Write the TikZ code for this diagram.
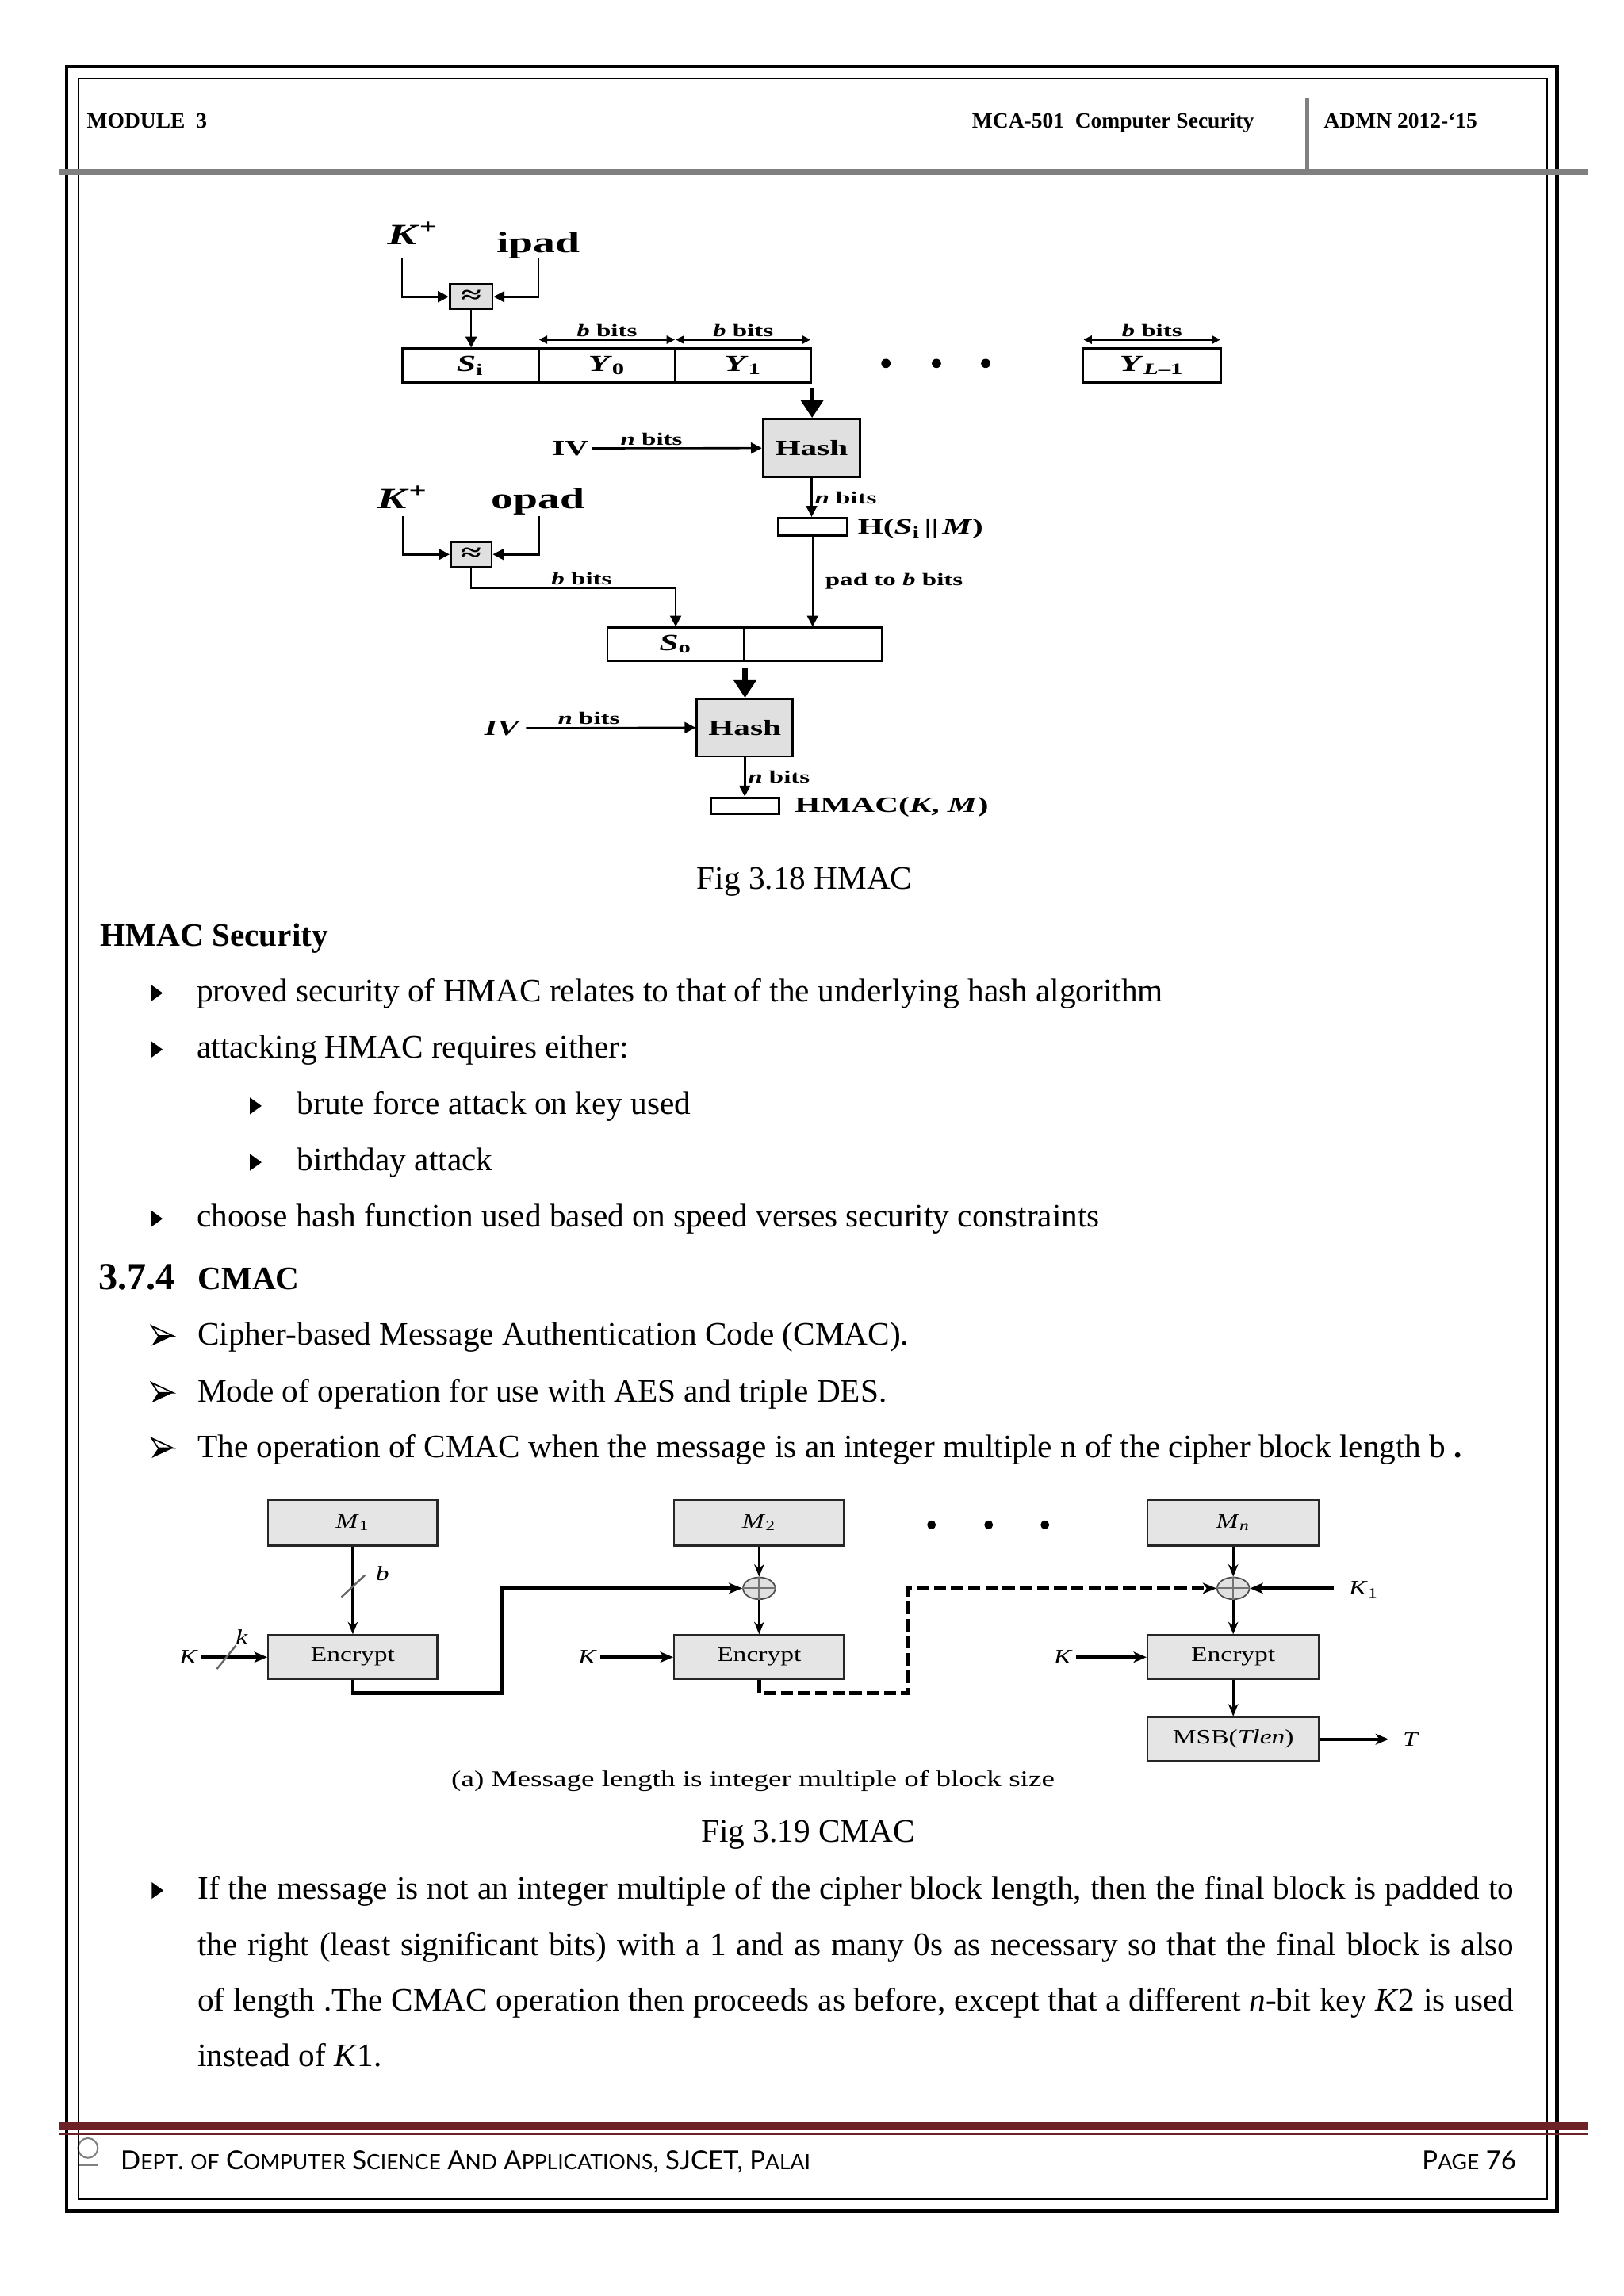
\documentclass[tikz,border=0pt]{standalone}
\usepackage{fontspec}
\setmainfont{Liberation Serif}
\newfontfamily\hfig[FakeStretch=1.5]{Liberation Serif}
\newfontfamily\cfig[FakeStretch=1.3]{Liberation Serif}
\newfontfamily\ffont{Lato}
\usetikzlibrary{arrows.meta,fit,shapes.geometric}
\newlength\pxu
\setlength\pxu{0.53725pt}
\newcommand\fsc[2]{#1{\fontsize{7.7}{8}\selectfont #2}}
\definecolor{maroon}{RGB}{108,34,39}
\begin{document}
\begin{tikzpicture}[x=\pxu,y=-\pxu,
  bt/.style={anchor=base west, inner sep=0, font=\fontsize{12}{14}\selectfont},
  hb/.style={draw, line width=0.8pt, inner sep=0pt},
  hg/.style={hb, fill=black!12},
  ha/.style={line width=0.75pt, -{Triangle[length=4pt,width=4pt]}},
  hA/.style={line width=1.8pt, -{Triangle[length=6.5pt,width=8pt]}},
  hd/.style={line width=0.6pt, {Triangle[length=3pt,width=3pt]}-{Triangle[length=3pt,width=3pt]}},
  hl/.style={font=\hfig\fontsize{6.4}{7}\selectfont\bfseries, inner sep=0.8pt},
  hm/.style={font=\hfig\fontsize{8}{9}\selectfont\bfseries, inner sep=0pt},
  hr/.style={font=\hfig\fontsize{8.5}{9}\selectfont\bfseries, inner sep=0pt},
  hx/.style={font=\hfig\fontsize{9}{9}\selectfont\bfseries, inner sep=0pt},
  hk/.style={font=\hfig\fontsize{10.8}{12}\selectfont\bfseries, inner sep=0pt},
  cb/.style={draw=black!85, line width=0.7pt, fill=black!10, inner sep=0pt},
  cl/.style={font=\cfig\fontsize{7.5}{8}\selectfont, inner sep=1pt},
  ca/.style={line width=0.9pt, -{Stealth[length=4.5pt,width=3.6pt,inset=1.4pt]}},
  cK/.style={line width=1.3pt, -{Stealth[length=4.8pt,width=4pt,inset=1.4pt]}},
  cA/.style={line width=1.4pt},
  cx/.style={ellipse, draw=black!70, line width=0.5pt, fill=black!12, minimum width=22\pxu, minimum height=15\pxu, inner sep=0pt}
]
\useasboundingbox (0,0) rectangle (1108,1567);

% ---------- page frame ----------
\draw[gray, line width=0.6pt] (60,1466) circle (3.6pt);
\draw[gray, line width=0.6pt] (54,1477.5) -- (67,1477.5);
\draw[line width=1.4pt] (45.5,45.5) rectangle (1062.5,1509);
\draw[line width=0.7pt] (53.5,53.5) rectangle (1055.5,1501);
\fill[black!50] (40,115) rectangle (1083,119.5);
\draw[black!50, line width=1.2pt] (892,67) -- (892,115);
\fill[maroon] (40,1448.5) rectangle (1083,1454);
\draw[maroon, line width=0.5pt] (40,1456.6) -- (1083,1456.6);

% ---------- header / footer ----------
\node[anchor=base west, inner sep=0, font=\fontsize{8}{9}\selectfont\bfseries] (mod) at (59,87.5) {MODULE\ \ 3};
\node[anchor=base east, inner sep=0, font=\fontsize{8}{9}\selectfont\bfseries] (course) at (856,87.5) {MCA-501\ \ Computer Security};
\node[anchor=base west, inner sep=0, font=\fontsize{8}{9}\selectfont\bfseries] (admn) at (903,87.5) {ADMN 2012-‘15};
\node[anchor=base west, inner sep=0, font=\ffont\fontsize{9.6}{10}\selectfont] (dept) at (82,1480.5)
  {\fsc{D}{EPT}. \fsc{}{OF} \fsc{C}{OMPUTER} \fsc{S}{CIENCE} \fsc{A}{ND} \fsc{A}{PPLICATIONS}, SJCET, \fsc{P}{ALAI}};
\node[anchor=base east, inner sep=0, font=\ffont\fontsize{9.6}{10}\selectfont] (page) at (1035,1480.5) {\fsc{P}{AGE} 76};

% ---------- HMAC figure ----------
\node[hk, anchor=base west] (kp1) at (264,167) {\textit{K}\textsuperscript{+}};
\node[hk, anchor=base west] (ipad) at (338.6,172.3) {ipad};
\node[hg, fit={(307,194)(336,211)}] (x1) {};
\node[hx] (x1l) at (x1) {≈};
\coordinate (k1t) at (274.4,176);
\coordinate (i1t) at (367.5,176);
\draw[ha] (k1t) |- (x1.west);
\draw[ha] (i1t) |- (x1.east);

\node[hb, fit={(274.4,238)(367.5,261)}] (si) {};
\node[hb, fit={(367.5,238)(460.8,261)}] (y0) {};
\node[hb, fit={(460.8,238)(553.4,261)}] (y1) {};
\node[hb, fit={(739,238)(833,261)}] (yl) {};
\node[hr] (sil) at (si) {\textit{S}\textsubscript{i}};
\node[hr] (y0l) at (y0) {\textit{Y}\textsubscript{0}};
\node[hr] (y1l) at (y1) {\textit{Y}\textsubscript{1}};
\node[hr] (yll) at (yl) {\textit{Y}\textsubscript{\textit{L}–1}};
\draw[ha] (x1.south) -- (x1.south |- si.north);
\draw[hd] ([xshift=0.6pt,yshift=2.9pt]y0.north west) -- ([xshift=-0.6pt,yshift=2.9pt]y0.north east) node[midway, above, hl] {\textit{b} bits};
\draw[hd] ([xshift=0.6pt,yshift=2.9pt]y1.north west) -- ([xshift=-0.6pt,yshift=2.9pt]y1.north east) node[midway, above, hl] {\textit{b} bits};
\draw[hd] ([xshift=0.6pt,yshift=2.9pt]yl.north west) -- ([xshift=-0.6pt,yshift=2.9pt]yl.north east) node[midway, above, hl] {\textit{b} bits};
\fill (604.5,248) circle (1.7pt);
\fill (639,248) circle (1.7pt);
\fill (672.6,248) circle (1.7pt);

\node[hg, fit={(520.6,286)(587,325.6)}] (hash1) {};
\node[hm] (hash1l) at (hash1) {Hash};
\draw[hA] ([yshift=-1.5pt]y1.south east) -- (y1.south east |- hash1.north);
\node[hm, anchor=east] (iv1) at (402,306) {IV};
\draw[ha] ([xshift=2\pxu]iv1.east) -- (hash1.west) node[pos=0.35, above, hl] {\textit{n} bits};
\node[hb, fit={(531,353.5)(578,365.5)}] (hbox) {};
\draw[ha] (hash1.south) -- (hash1.south |- hbox.north) node[midway, right, hl] {\textit{n} bits};
\node[hm, anchor=west] (hlab) at (585,361) {H(\textit{S}\textsubscript{i}\,||\,\textit{M})};

\node[hk, anchor=base west] (kp2) at (256.8,347) {\textit{K}\textsuperscript{+}};
\node[hk, anchor=base west] (opad) at (335,347) {opad};
\node[hg, fit={(307.5,369.7)(335.5,387)}] (x2) {};
\node[hx] (x2l) at (x2) {≈};
\coordinate (k2t) at (275,352);
\coordinate (o2t) at (367.7,352);
\draw[ha] (k2t) |- (x2.west);
\draw[ha] (o2t) |- (x2.east);
\node[hb, fit={(414.5,428.4)(507.6,450.9)}] (so) {};
\node[hr] (sol) at (so) {\textit{S}\textsubscript{o}};
\node[hb, fit={(507.6,428.4)(601.8,450.9)}] (sr) {};
\draw[ha] (x2.south) -- ++(0,13.5) -| (so.north) node[pos=0.27, above, hl] {\textit{b} bits};
\draw[ha] (hbox.south) -- (hbox.south |- sr.north) node[midway, right, hl, xshift=3.5pt] {pad to \textit{b} bits};

\node[hg, fit={(475.4,477)(541,516.2)}] (hash2) {};
\node[hm] (hash2l) at (hash2) {Hash};
\draw[hA] ([yshift=-2.5pt]so.south east) -- (so.south east |- hash2.north);
\node[hm, anchor=east] (iv2) at (356,497) {\textit{IV}};
\draw[ha] ([xshift=3\pxu]iv2.east) -- (hash2.west) node[pos=0.37, above, hl] {\textit{n} bits};
\node[hb, fit={(485,544.4)(531.5,555.6)}] (hmac) {};
\draw[ha] (hash2.south) -- (hash2.south |- hmac.north) node[midway, right, hl] {\textit{n} bits};
\node[hm, anchor=west] (hmlab) at (542,551) {HMAC(\textit{K}, \textit{M})};

% ---------- text block 1 ----------
\node[bt, anchor=base] (fig1) at (549,607) {Fig 3.18 HMAC};
\node[bt, font=\fontsize{12}{14}\selectfont\bfseries] (hsec) at (68,645.6) {HMAC Security};
\foreach \xx/\yy in {103/683.5, 103/722, 170.5/760.5, 170.5/799, 103/837.5}
  \fill (\xx,\yy-11.5) -- (\xx+8,\yy-5.75) -- (\xx,\yy) -- cycle;
\node[bt] (b1) at (134,683.5) {proved security of HMAC relates to that of the underlying hash algorithm};
\node[bt] (b2) at (134,722) {attacking HMAC requires either:};
\node[bt] (b3) at (202.5,760.5) {brute force attack on key used};
\node[bt] (b4) at (202.5,799) {birthday attack};
\node[bt] (b5) at (134,837.5) {choose hash function used based on speed verses security constraints};

\node[bt, font=\fontsize{14}{16}\selectfont\bfseries] (secn) at (67,880) {3.7.4};
\node[bt, font=\fontsize{12}{14}\selectfont\bfseries] (sect) at (134.5,880) {CMAC};
\foreach \yy in {918, 956.8, 994.6} {
  \fill (103.5,\yy+0.5) -- (118,\yy-6.3) -- (108,\yy-6.3) -- cycle;
  \filldraw[fill=white, line width=0.5pt] (103.5,\yy-13.1) -- (118,\yy-6.3) -- (108,\yy-6.3) -- cycle;
}
\node[bt] (a1) at (134.5,918) {Cipher-based Message Authentication Code (CMAC).};
\node[bt] (a2) at (134.5,956.8) {Mode of operation for use with AES and triple DES.};
\node[bt] (a3) at (134.5,994.6) {The operation of CMAC when the message is an integer multiple n of the cipher block length b \textbf{.}};

% ---------- CMAC figure ----------
\node[cb, fit={(183,1023.6)(298.5,1054.8)}] (m1) {};
\node[cb, fit={(460,1023.6)(576,1054.8)}] (m2) {};
\node[cb, fit={(783,1023.6)(900,1054.8)}] (mn) {};
\node[cb, fit={(183,1116)(298.5,1146)}] (e1) {};
\node[cb, fit={(460,1116)(576,1146)}] (e2) {};
\node[cb, fit={(783,1116)(900,1146)}] (e3) {};
\node[cb, fit={(783,1172)(900,1202)}] (msb) {};
\node[cl] (m1l) at (m1) {\textit{M}\textsubscript{1}};
\node[cl] (m2l) at (m2) {\textit{M}\textsubscript{2}};
\node[cl] (mnl) at (mn) {\textit{M}\textsubscript{\textit{n}}};
\node[cl] (e1l) at (e1) {Encrypt};
\node[cl] (e2l) at (e2) {Encrypt};
\node[cl] (e3l) at (e3) {Encrypt};
\node[cl] (msbl) at (msb) {MSB(\textit{Tlen})};
\node[cx] (c2) at (518,1084) {};
\node[cx] (c3) at (841.5,1084) {};
\draw[black!55, line width=0.6pt] (c2.north) -- (c2.south) (c2.west) -- (c2.east);
\draw[black!55, line width=0.6pt] (c3.north) -- (c3.south) (c3.west) -- (c3.east);
\fill (635.6,1040.7) circle (1.6pt);
\fill (674.6,1040.7) circle (1.6pt);
\fill (713,1040.7) circle (1.6pt);

\draw[ca] (m1) -- (e1);
\draw[black!60, line width=0.7pt] (233,1090) -- (249,1075);
\node[cl] (lb) at (261,1074) {\textit{b}};
\node[cl] (ka) at (128.8,1131) {\textit{K}};
\draw[cK] (ka) -- (e1);
\draw[black!60, line width=0.7pt] (148,1139) -- (161,1123);
\node[cl] (lk) at (165,1117) {\textit{k}};
\coordinate (r1) at (342.5,1155.4);
\draw[cA, -{Stealth[length=5pt,width=4pt,inset=1.4pt]}] (e1.south) |- (r1) |- (c2.west);
\draw[ca] (m2) -- (c2);
\draw[ca] (c2) -- (e2);
\node[cl] (kb) at (401,1131) {\textit{K}};
\draw[cK] (kb) -- (e2);
\coordinate (r2) at (619.6,1155.4);
\draw[cA, dashed, dash pattern=on 4.5pt off 1.8pt, -{Stealth[length=5pt,width=4pt,inset=1.4pt]}] (e2.south) |- (r2) |- (c3.west);
\draw[ca] (mn) -- (c3);
\draw[ca] (c3) -- (e3);
\node[cl] (k1) at (930.6,1085) {\textit{K}\textsubscript{1}};
\draw[cK] ([xshift=-4.5pt]k1.west |- c3) -- (c3);
\node[cl] (kc) at (725.5,1131) {\textit{K}};
\draw[cK] (kc) -- (e3);
\draw[ca] (e3) -- (msb);
\node[cl, anchor=west] (tt) at (955,1187) {\textit{T}};
\draw[cK] (msb.east) -- ([xshift=-4pt]tt.west);
\node[cl, font=\cfig\fontsize{8.3}{9}\selectfont] (cap) at (513.8,1215.7) {(a) Message length is integer multiple of block size};

% ---------- text block 2 ----------
\node[bt, anchor=base] (fig2) at (551.5,1257) {Fig 3.19 CMAC};
\fill (103.5,1296-11.5) -- (111.5,1296-5.75) -- (103.5,1296) -- cycle;
\node[bt] (p1) at (134.5,1296) {\makebox[482.5pt][s]{If the message is not an integer multiple of the cipher block length, then the final block is padded to}};
\node[bt] (p2) at (134.5,1334.8) {\makebox[482.5pt][s]{the right (least significant bits) with a 1 and as many 0s as necessary so that the final block is also}};
\node[bt] (p3) at (134.5,1372.6) {\makebox[482.5pt][s]{of length .The CMAC operation then proceeds as before, except that a different \textit{n}-bit key \textit{K}2 is used}};
\node[bt] (p4) at (134.5,1410.6) {instead of \textit{K}1.};
\end{tikzpicture}
\end{document}
